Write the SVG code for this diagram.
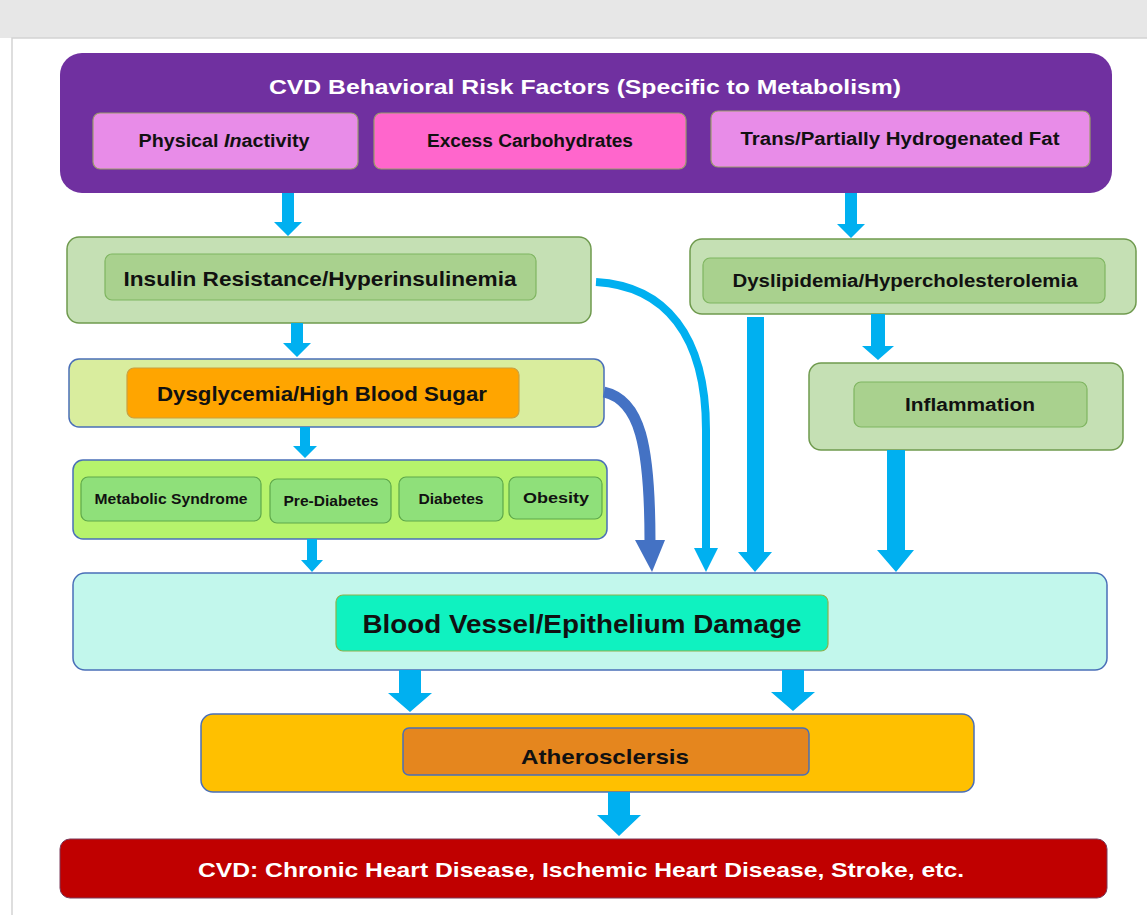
<svg xmlns="http://www.w3.org/2000/svg" width="1147" height="915" viewBox="0 0 1147 915">
<style>
text{font-family:"Liberation Sans",Arial,sans-serif;font-weight:bold;text-anchor:middle;dominant-baseline:central;fill:#111}
.wt{fill:#fff}
.arr{fill:#00b0f0}
.g-out{fill:#c5e0b4;stroke:#6f9a4e;stroke-width:1.5}
.g-in{fill:#a9d18e;stroke:#7fb560;stroke-width:1.2}
.pk{fill:#e88ce8;stroke:#9a9a6a;stroke-width:1.2}
.sm{fill:#8fe07a;stroke:#5ea84a;stroke-width:1.2}
.bl{stroke:#4a6fb8;stroke-width:1.5}
</style>
<rect x="0" y="0" width="1147" height="915" fill="#ffffff"/>
<rect x="0" y="0" width="1147" height="38" fill="#e7e7e7"/>
<rect x="12" y="38" width="1145" height="890" fill="#ffffff" stroke="#d3d3d3" stroke-width="1.5"/>

<g id="risk-factors">
<rect x="60" y="53" width="1052" height="140" rx="22" fill="#7030a0"/>
<text class="wt" x="585" y="86" font-size="21" textLength="632" lengthAdjust="spacingAndGlyphs">CVD Behavioral Risk Factors (Specific to Metabolism)</text>
<rect class="pk" x="93" y="113" width="265" height="56" rx="7"/>
<text x="224" y="141" font-size="18" textLength="171" lengthAdjust="spacingAndGlyphs">Physical <tspan font-style="italic">In</tspan>activity</text>
<rect x="374" y="113" width="312" height="56" rx="7" fill="#ff66cc" stroke="#9a9a6a" stroke-width="1.2"/>
<text x="530" y="141" font-size="18" textLength="206" lengthAdjust="spacingAndGlyphs">Excess Carbohydrates</text>
<rect class="pk" x="711" y="111" width="379" height="56" rx="7"/>
<text x="900" y="139" font-size="18" textLength="319" lengthAdjust="spacingAndGlyphs">Trans/Partially Hydrogenated Fat</text>
</g>

<g id="insulin">
<rect class="g-out" x="67" y="237" width="524" height="86" rx="12"/>
<rect class="g-in" x="105" y="254" width="431" height="46" rx="7"/>
<text x="320" y="278" font-size="21" textLength="393" lengthAdjust="spacingAndGlyphs">Insulin Resistance/Hyperinsulinemia</text>
</g>

<g id="dysglycemia">
<rect class="bl" x="69" y="359" width="535" height="68" rx="10" fill="#d9ed9e"/>
<rect x="127" y="368" width="392" height="50" rx="7" fill="#ffa500" stroke="#c9a040" stroke-width="1.2"/>
<text x="322" y="393" font-size="21" textLength="330" lengthAdjust="spacingAndGlyphs">Dysglycemia/High Blood Sugar</text>
</g>

<g id="conditions">
<rect class="bl" x="73" y="460" width="534" height="79" rx="10" fill="#b6f36c"/>
<rect class="sm" x="81" y="477" width="180" height="44" rx="7"/>
<text x="171" y="499" font-size="14" textLength="153" lengthAdjust="spacingAndGlyphs">Metabolic Syndrome</text>
<rect class="sm" x="270" y="479" width="121" height="44" rx="7"/>
<text x="331" y="501" font-size="14" textLength="95" lengthAdjust="spacingAndGlyphs">Pre-Diabetes</text>
<rect class="sm" x="399" y="477" width="104" height="44" rx="7"/>
<text x="451" y="499" font-size="14" textLength="65" lengthAdjust="spacingAndGlyphs">Diabetes</text>
<rect class="sm" x="509" y="477" width="93" height="42" rx="7"/>
<text x="556" y="498" font-size="14" textLength="66" lengthAdjust="spacingAndGlyphs">Obesity</text>
</g>

<g id="dyslipidemia">
<rect class="g-out" x="690" y="239" width="446" height="75" rx="12"/>
<rect class="g-in" x="703" y="258" width="402" height="45" rx="7"/>
<text x="905" y="281" font-size="18" textLength="345" lengthAdjust="spacingAndGlyphs">Dyslipidemia/Hypercholesterolemia</text>
</g>

<g id="inflammation">
<rect class="g-out" x="809" y="363" width="314" height="87" rx="12"/>
<rect class="g-in" x="854" y="382" width="233" height="45" rx="7"/>
<text x="970" y="405" font-size="18" textLength="130" lengthAdjust="spacingAndGlyphs">Inflammation</text>
</g>

<g id="vessel-damage">
<rect class="bl" x="73" y="573" width="1034" height="97" rx="12" fill="#c2f7ec"/>
<rect x="336" y="595" width="492" height="56" rx="7" fill="#0ff2c0" stroke="#8fb04a" stroke-width="1.2"/>
<text x="582" y="624" font-size="25" textLength="439" lengthAdjust="spacingAndGlyphs">Blood Vessel/Epithelium Damage</text>
</g>

<g id="atherosclerosis">
<rect class="bl" x="201" y="714" width="773" height="78" rx="12" fill="#ffc000"/>
<rect class="bl" x="403" y="728" width="406" height="47" rx="6" fill="#e5861e"/>
<text x="605" y="756" font-size="21" textLength="168" lengthAdjust="spacingAndGlyphs">Atherosclersis</text>
</g>

<g id="cvd">
<rect x="60" y="839" width="1047" height="59" rx="10" fill="#c00000" stroke="#7a3a5a" stroke-width="1"/>
<text class="wt" x="581" y="869" font-size="21" textLength="766" lengthAdjust="spacingAndGlyphs">CVD: Chronic Heart Disease, Ischemic Heart Disease, Stroke, etc.</text>
</g>

<g id="connectors">
<polygon class="arr" points="282,193 294,193 294,222 302,222 288,236 274,222 282,222"/>
<polygon class="arr" points="845,193 857,193 857,224 865,224 851,238 837,224 845,224"/>
<polygon class="arr" points="291,323 303,323 303,343 311,343 297,357 283,343 291,343"/>
<polygon class="arr" points="300,427 310,427 310,446 317,446 305,458 293,446 300,446"/>
<polygon class="arr" points="307,539 317,539 317,560 323,560 312,572 301,560 307,560"/>
<polygon class="arr" points="871,314 885,314 885,346 894,346 878,360 862,346 871,346"/>
<polygon class="arr" points="747,317 764,317 764,552 772,552 755,572 738,552 747,552"/>
<polygon class="arr" points="887,450 905,450 905,550 914,550 896,572 877,550 887,550"/>
<path d="M596,282 C665,286 706,335 706,430 L706,550" fill="none" stroke="#00b0f0" stroke-width="8"/>
<polygon class="arr" points="694,548 718,548 706,572"/>
<path d="M604,392 C640,400 650,445 650,542" fill="none" stroke="#4472c4" stroke-width="11"/>
<polygon points="635,540 665,540 652,572" fill="#4472c4"/>
<polygon class="arr" points="399,670 421,670 421,693 432,693 410,712 388,693 399,693"/>
<polygon class="arr" points="782,670 804,670 804,692 815,692 793,711 771,692 782,692"/>
<polygon class="arr" points="608,792 630,792 630,815 641,815 619,836 597,815 608,815"/>
</g>
</svg>
